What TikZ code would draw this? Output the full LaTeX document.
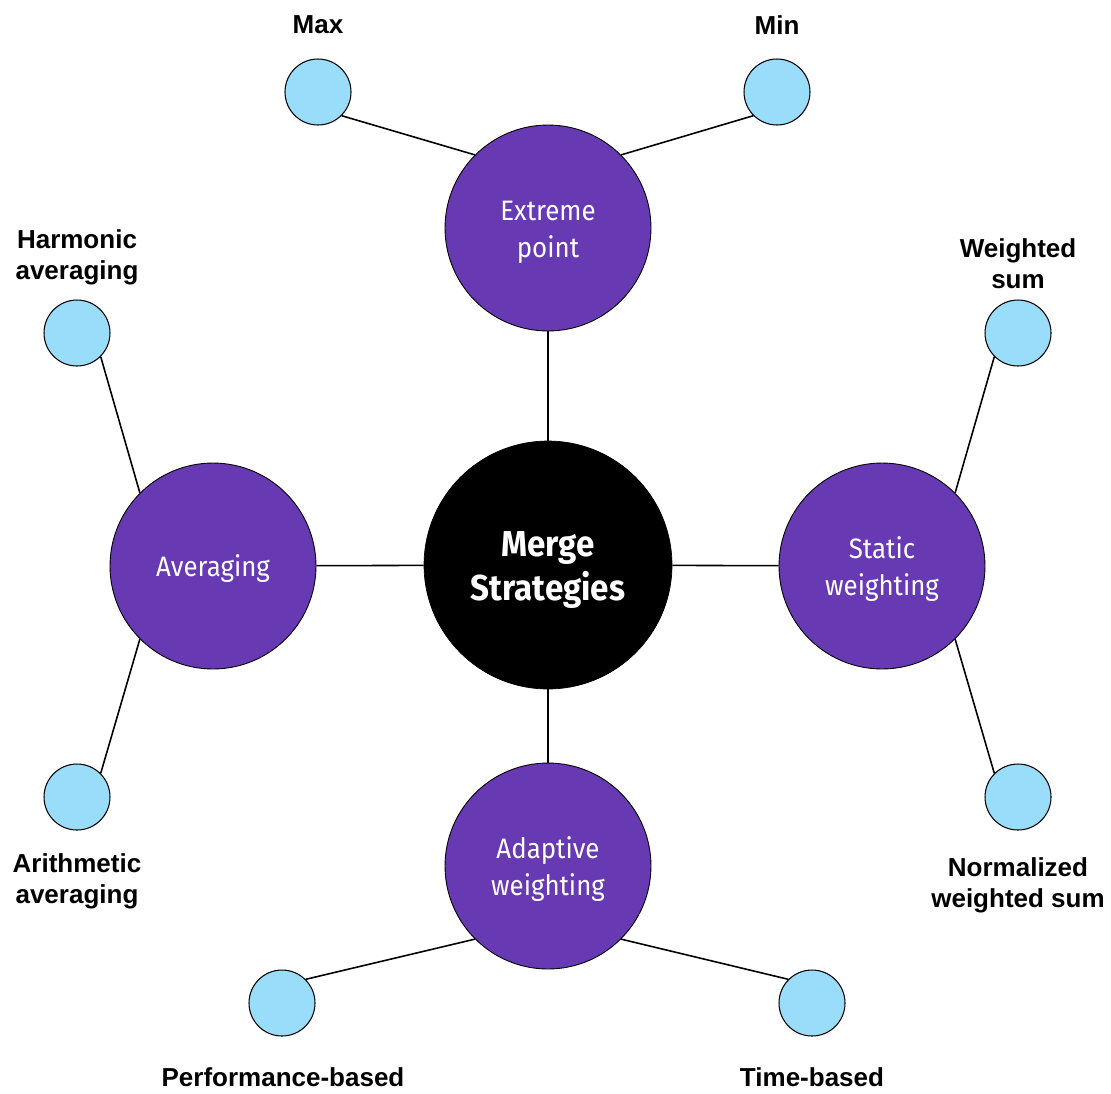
\documentclass[tikz,border=0pt]{standalone}
\usepackage{fontspec}
\setmainfont{Liberation Sans}
\newfontfamily\nodefont[FakeStretch=0.92]{Fira Sans}
\newfontfamily\hubfont[FakeStretch=0.92]{Fira Sans Bold}
\definecolor{grape}{HTML}{6739B3}
\definecolor{sky}{HTML}{99DDFB}
\newcommand\lines[2][2.3pt]{\raisebox{-#1}[\height][\depth]{\begin{tabular}{@{}c@{}}#2\end{tabular}}}

\begin{document}
\begin{tikzpicture}
  [x=0.02cm,y=-0.02cm,
   hub/.style={circle,fill=black,draw=black,minimum size=4.96cm,inner sep=0pt,text=white,
     font=\hubfont\fontsize{20.5}{25}\selectfont},
   group/.style={circle,fill=grape,draw=black,line width=0.5pt,minimum size=4.12cm,inner sep=0pt,text=white,
     font=\nodefont\fontsize{16}{21}\selectfont},
   leaf/.style={circle,fill=sky,draw=black,line width=0.6pt,minimum size=1.32cm,inner sep=0pt},
   tag/.style={font=\bfseries\fontsize{14.8}{17.6}\selectfont,align=center},
   edge/.style={line width=0.9pt}]
  \useasboundingbox (0,0) rectangle (1111,1093);

  \node[hub] (hub) at (548,565) {\lines[2.8pt]{Merge\\Strategies}};
  \node[group] (ext) at (548,228) {\lines{Extreme\\point}};
  \node[group] (avg) at (213,566) {\lines[1.6pt]{Averaging}};
  \node[group] (stat) at (882,566) {\lines{Static\\weighting}};
  \node[group] (adapt) at (548,866) {\lines{Adaptive\\weighting}};

  \node[leaf] (max) at (318,92) {};
  \node[leaf] (min) at (777,92) {};
  \node[leaf] (harm) at (77,333) {};
  \node[leaf] (arith) at (77,797) {};
  \node[leaf] (wsum) at (1018,333) {};
  \node[leaf] (nwsum) at (1018,797) {};
  \node[leaf] (perf) at (282,1003) {};
  \node[leaf] (time) at (812,1003) {};

  \node[tag] (maxlab) at (318,25) {Max};
  \node[tag] (minlab) at (777,25) {Min};
  \node[tag] (harmlab) at (77,257) {Harmonic\\averaging};
  \node[tag] (arithlab) at (77,881) {Arithmetic\\averaging};
  \node[tag] (wsumlab) at (1018,264) {Weighted\\sum};
  \node[tag] (nwsumlab) at (1018,885) {Normalized\\weighted sum};
  \node[tag] (perflab) at (283,1077) {Performance-based};
  \node[tag] (timelab) at (812,1077) {Time-based};

  \foreach \from/\to in {hub/ext,hub/avg,hub/stat,hub/adapt}
    \draw[edge] (\from) -- (\to);

  \foreach \from/\to in {max.south east/ext.north west,min.south west/ext.north east,
      harm.south east/avg.north west,arith.north east/avg.south west,
      wsum.south west/stat.north east,nwsum.north west/stat.south east,
      perf.north east/adapt.south west,time.north west/adapt.south east}
    \draw[edge] (\from) -- (\to);

\end{tikzpicture}
\end{document}
